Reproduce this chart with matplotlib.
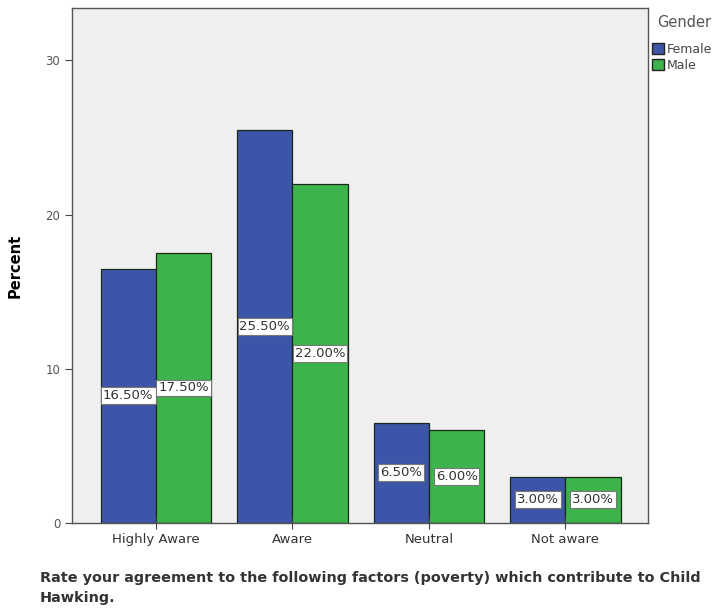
import matplotlib
matplotlib.use("Agg")
import matplotlib.pyplot as plt
import numpy as np
from matplotlib.patches import Patch

categories = ["Highly Aware", "Aware", "Neutral", "Not aware"]
female = [16.5, 25.5, 6.5, 3.0]
male = [17.5, 22.0, 6.0, 3.0]
series_names = ["Female", "Male"]
colors = ["#3d55a8", "#3cb44b"]

fig = plt.figure(figsize=(7.2, 6.13), dpi=100)
ax = fig.add_axes([0.100, 0.147, 0.800, 0.840])
ax.set_facecolor("#efefef")

x = np.arange(len(categories))
w = 0.405
b1 = ax.bar(x - w/2, female, w, color=colors[0], edgecolor="#1a2a1a", linewidth=0.9)
b2 = ax.bar(x + w/2, male, w, color=colors[1], edgecolor="#1a2a1a", linewidth=0.9)

box = dict(boxstyle="square,pad=0.15", facecolor="white", edgecolor="#777777", linewidth=0.8)
for bars, vals in ((b1, female), (b2, male)):
    for r, v in zip(bars, vals):
        ax.text(r.get_x() + r.get_width()/2, v/2, f"{v:.2f}%", ha="center", va="center",
                fontsize=9.5, color="#333333", bbox=box)

ax.set_xlim(-0.615, 3.605)
ax.set_ylim(0, 33.4)
ax.set_yticks([0, 10, 20, 30])
ax.set_xticks(x)
ax.set_xticklabels(categories, fontsize=9.5, color="#333333")
ax.tick_params(axis="y", labelsize=8.5, labelcolor="#555555", length=5, color="#444444")
ax.tick_params(axis="x", length=8, color="#444444", direction="inout")
for s in ax.spines.values():
    s.set_color("#555555")
    s.set_linewidth(1.0)
ax.set_ylabel("Percent", fontsize=10.5, fontweight="bold", labelpad=16)

handles = [Patch(facecolor=c, edgecolor="#222222", label=n) for c, n in zip(colors, series_names)]
leg = fig.legend(handles=handles, title="Gender", loc="upper left", bbox_to_anchor=(0.902, 0.979),
                 frameon=False, fontsize=9, title_fontsize=10.5, handlelength=1.0, handleheight=1.0,
                 handletextpad=0.15, labelspacing=0.25, borderaxespad=0, borderpad=0.2)
leg.get_title().set_color("#555555")
leg._legend_box.align = "right"
leg._legend_box.sep = 9
for t in leg.get_texts():
    t.set_color("#444444")

fig.text(0.055, 0.041, "Rate your agreement to the following factors (poverty) which contribute to Child\nHawking.",
         fontsize=10.4, fontweight="bold", color="#333333", ha="left", va="center", linespacing=1.5)

fig.savefig("out.png", dpi=100)
